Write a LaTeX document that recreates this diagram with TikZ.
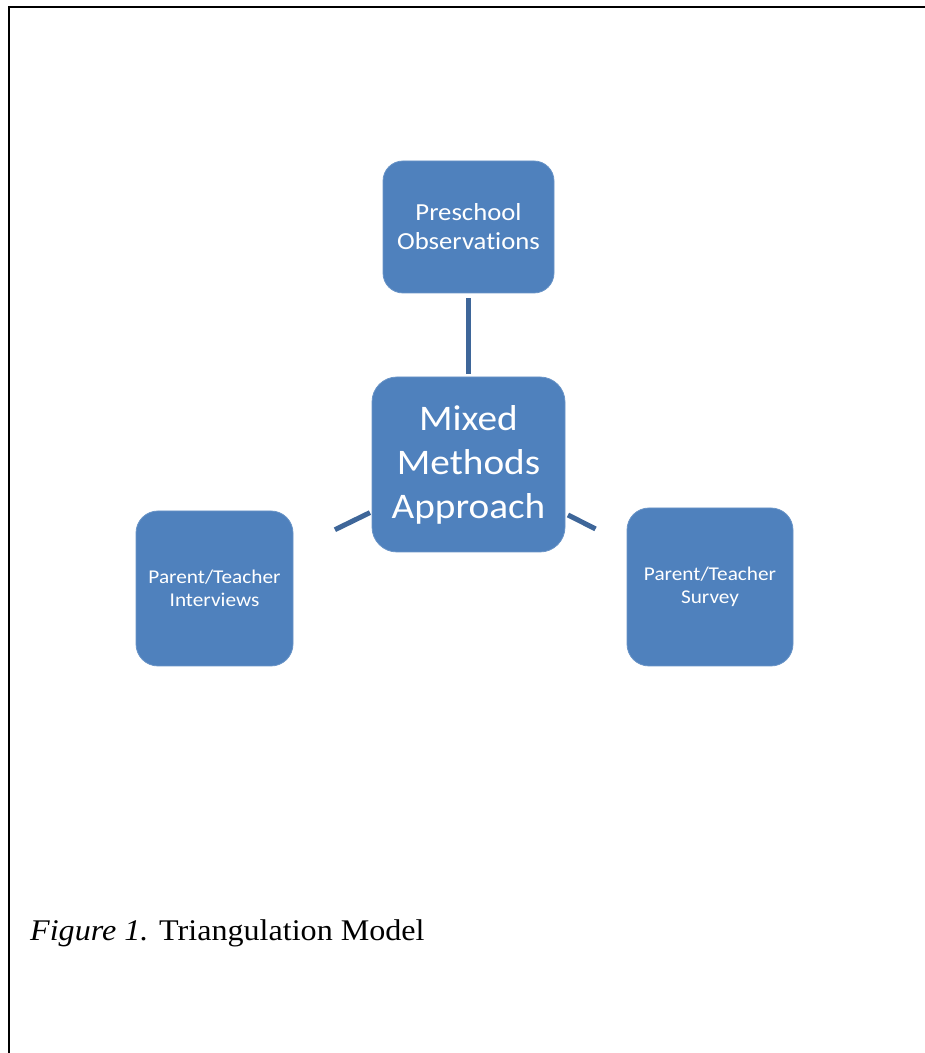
\documentclass[tikz,border=0pt]{standalone}
\usepackage{fontspec}
\setmainfont[FakeStretch=1.07]{Liberation Serif}
\newfontfamily\boxfont[FakeStretch=1.09,Ligatures=NoCommon]{Carlito}
\usetikzlibrary{calc}
\definecolor{boxblue}{HTML}{4F81BD}
\definecolor{linkblue}{HTML}{3E6699}
\tikzset{
  boxnode/.style={fill=boxblue, draw=boxblue!85!white, line width=0.8pt, text=white, align=center, inner sep=0pt},
  link/.style={draw=linkblue, line width=5pt},
}
\begin{document}
\begin{tikzpicture}[x=1pt,y=1pt]
\useasboundingbox (0,0) rectangle (925,1053);
% frame
\draw[line width=2pt] (9,0) -- (9,1045.5) -- (925,1045.5);
% boxes
\node[boxnode, rounded corners=20pt, minimum width=171pt, minimum height=132pt,
      font=\boxfont\fontsize{24.5}{29}\selectfont] (top) at (468.5,826) {Preschool\\Observations};
\node[boxnode, rounded corners=25pt, minimum width=193pt, minimum height=175pt,
      font=\boxfont\fontsize{36}{44}\selectfont] (mid) at (468.5,588.5) {Mixed\\Methods\\Approach};
\node[boxnode, rounded corners=22pt, minimum width=157pt, minimum height=155pt,
      font=\boxfont\fontsize{19.5}{23}\selectfont] (left) at (214.5,464.5) {Parent/Teacher\\Interviews};
\node[boxnode, rounded corners=22pt, minimum width=166pt, minimum height=158pt,
      font=\boxfont\fontsize{19.5}{23}\selectfont] (right) at (710,466) {Parent/Teacher\\Survey};
% connectors
\draw[link] ($(mid.center)!0.381!(top.center)$) -- ($(mid.center)!0.701!(top.center)$);
\draw[link] ($(mid.center)!0.388!(left.center)$) -- ($(mid.center)!0.526!(left.center)$);
\draw[link] ($(mid.center)!0.412!(right.center)$) -- ($(mid.center)!0.526!(right.center)$);
% caption
\node[anchor=base west, inner sep=0pt, font=\fontsize{30}{36}\selectfont] (cap) at (30,112.5)
  {\textit{Figure 1.} Triangulation Model};
\end{tikzpicture}
\end{document}
